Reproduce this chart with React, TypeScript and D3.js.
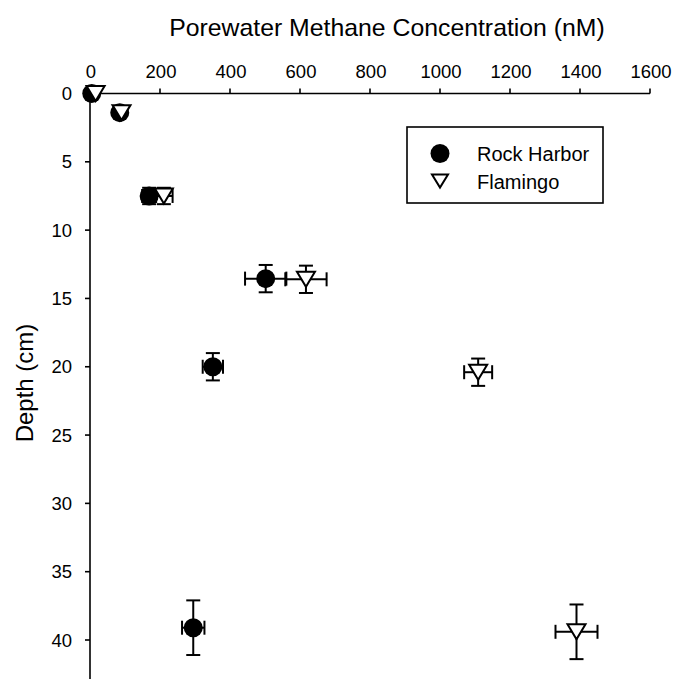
import React from "react";
import * as d3 from "d3";

const xTicks = [0, 200, 400, 600, 800, 1000, 1200, 1400, 1600];
const yTicks = [0, 5, 10, 15, 20, 25, 30, 35, 40];

const rhConc = [5, 85, 169, 502, 351, 295];
const rhDepth = [0, 1.4, 7.5, 13.55, 20.0, 39.1];
const rhConcErr = [0, 0, 20, 59, 29, 32];
const rhDepthErr = [0, 0, 0.6, 1.0, 1.0, 2.0];

const flConc = [16, 90, 211, 617, 1109, 1390];
const flDepth = [0, 1.4, 7.5, 13.6, 20.4, 39.4];
const flConcErr = [0, 0, 25, 59, 40, 60];
const flDepthErr = [0, 0, 0.6, 1.0, 1.0, 2.0];

const seriesNames = ["Rock Harbor", "Flamingo"];

const FONT = "'Liberation Sans', Arial, Helvetica, sans-serif";

function Tri({ cx, cy, w = 18, h = 15 }: { cx: number; cy: number; w?: number; h?: number }) {
  const p = `M${cx - w / 2},${cy - h / 2}L${cx + w / 2},${cy - h / 2}L${cx},${cy + h / 2}Z`;
  return <path d={p} fill="#fff" stroke="#000" strokeWidth={2} strokeLinejoin="miter" />;
}

function ErrBars({ x, y, xl, xr, yt, yb }: { x: number; y: number; xl: number; xr: number; yt: number; yb: number }) {
  const c = 7;
  const els: React.ReactNode[] = [];
  if (xr - xl > 2) {
    els.push(<line key="h" x1={xl} x2={xr} y1={y} y2={y} />);
    els.push(<line key="hl" x1={xl} x2={xl} y1={y - c} y2={y + c} />);
    els.push(<line key="hr" x1={xr} x2={xr} y1={y - c} y2={y + c} />);
  }
  if (yb - yt > 2) {
    els.push(<line key="v" x1={x} x2={x} y1={yt} y2={yb} />);
    els.push(<line key="vt" x1={x - c} x2={x + c} y1={yt} y2={yt} />);
    els.push(<line key="vb" x1={x - c} x2={x + c} y1={yb} y2={yb} />);
  }
  return <g stroke="#000" strokeWidth={2}>{els}</g>;
}

export default function App() {
  const W = 676, H = 679;
  const x = d3.scaleLinear().domain([0, 1600]).range([90, 650]);
  const y = d3.scaleLinear().domain([0, 40]).range([93.5, 640]);
  const yEnd = H;

  return (
    <svg width={W} height={H} style={{ position: "absolute", left: 0, top: 0, background: "#fff" }} fontFamily={FONT}>
      <rect x={0} y={0} width={W} height={H} fill="#fff" />
      {/* title */}
      <text x={387} y={36} fontSize={24.8} textAnchor="middle" fill="#000">Porewater Methane Concentration (nM)</text>
      {/* y label */}
      <text transform={`translate(33,383) rotate(-90)`} fontSize={24} textAnchor="middle" fill="#000">Depth (cm)</text>

      {/* x axis */}
      <line x1={x(0)} x2={x(1600)} y1={y(0)} y2={y(0)} stroke="#000" strokeWidth={1.6} />
      {xTicks.map((t) => (
        <g key={"xt" + t}>
          <line x1={x(t)} x2={x(t)} y1={y(0)} y2={y(0) - 5} stroke="#000" strokeWidth={1.6} />
          <text x={x(t) + 1} y={78} fontSize={18.5} textAnchor="middle" fill="#000">{t}</text>
        </g>
      ))}
      {/* y axis */}
      <line x1={x(0)} x2={x(0)} y1={y(0)} y2={yEnd} stroke="#000" strokeWidth={1.6} />
      {yTicks.map((t) => (
        <g key={"yt" + t}>
          <line x1={x(0)} x2={x(0) - 5} y1={y(t)} y2={y(t)} stroke="#000" strokeWidth={1.6} />
          <text x={72} y={y(t) + 6.5} fontSize={18.5} textAnchor="end" fill="#000">{t}</text>
        </g>
      ))}

      {/* Rock Harbor */}
      {rhConc.map((v, i) => (
        <g key={"rh" + i}>
          <ErrBars x={x(v)} y={y(rhDepth[i])} xl={x(v - rhConcErr[i])} xr={x(v + rhConcErr[i])} yt={y(rhDepth[i] - rhDepthErr[i])} yb={y(rhDepth[i] + rhDepthErr[i])} />
          <circle cx={x(v)} cy={y(rhDepth[i])} r={9.5} fill="#000" />
        </g>
      ))}
      {/* Flamingo */}
      {flConc.map((v, i) => (
        <g key={"fl" + i}>
          <ErrBars x={x(v)} y={y(flDepth[i])} xl={x(v - flConcErr[i])} xr={x(v + flConcErr[i])} yt={y(flDepth[i] - flDepthErr[i])} yb={y(flDepth[i] + flDepthErr[i])} />
          <Tri cx={x(v)} cy={y(flDepth[i])} />
        </g>
      ))}

      {/* legend */}
      <rect x={407} y={127} width={196} height={76} fill="#fff" stroke="#000" strokeWidth={1.6} />
      <circle cx={440} cy={153.5} r={9.5} fill="#000" />
      <Tri cx={440} cy={181} w={16} h={13} />
      <text x={477} y={161} fontSize={20} fill="#000">{seriesNames[0]}</text>
      <text x={477} y={188.5} fontSize={20} fill="#000">{seriesNames[1]}</text>
    </svg>
  );
}
